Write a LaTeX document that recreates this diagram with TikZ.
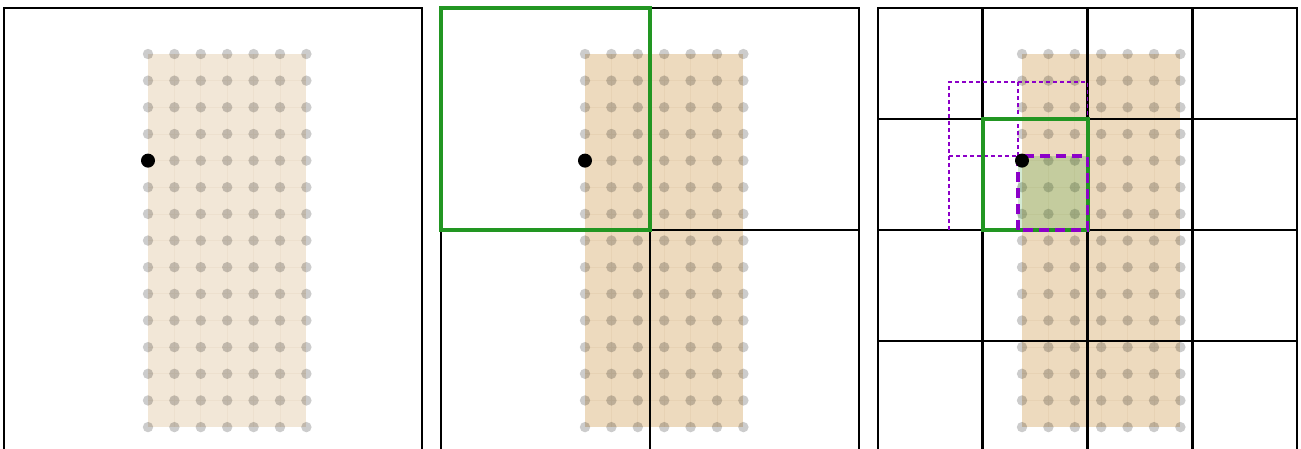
\documentclass[tikz,border=0pt]{standalone}
\definecolor{tanA}{RGB}{242,231,215}
\definecolor{tanB}{RGB}{237,218,190}
\definecolor{tanlineA}{RGB}{237,224,206}
\definecolor{tanlineB}{RGB}{231,210,180}
\definecolor{fgreen}{RGB}{34,150,34}
\definecolor{purp}{RGB}{140,0,200}
\tikzset{
  frame/.style={draw=black,line width=2pt},
  cellline/.style={draw=black,line width=2.6pt},
  greenbox/.style={draw=fgreen,line width=4pt},
  dotg/.style={fill=black,opacity=0.2},
  thinpurp/.style={draw=purp,line width=1.3pt,dash pattern=on 4pt off 3pt},
  thickpurp/.style={draw=purp,line width=3.2pt,dash pattern=on 10pt off 6pt},
  query/.style={circle,fill=black,inner sep=0pt,minimum size=14pt},
}
\newcommand{\dotgrid}[3]{% left offset, fill colour, line colour
  \fill[#2] (#1+144,54) rectangle (#1+302.4,427.1);
  \foreach \i in {1,...,5} {\draw[#3,line width=0.8pt] (#1+144+26.4*\i,54) -- (#1+144+26.4*\i,427.1);}
  \foreach \j in {1,...,13} {\draw[#3,line width=0.8pt] (#1+144,54+26.65*\j) -- (#1+302.4,54+26.65*\j);}
  \foreach \i in {0,...,6} {\foreach \j in {0,...,14} {\fill[dotg] (#1+144+26.4*\i,54+26.65*\j) circle (5.2pt);}}
}
\begin{document}
\begin{tikzpicture}[x=1pt,y=-1pt]
\useasboundingbox (0,0) rectangle (1301,448);
% panel 1
\dotgrid{4}{tanA}{tanlineA}
\draw[frame] (4,8) rectangle (422,452);
\node[query] (q1) at (148,160.6) {};
% panel 2
\dotgrid{441}{tanB}{tanlineB}
\draw[frame] (441,8) rectangle (859,452);
\coordinate (m2l) at (441,230);
\coordinate (m2r) at (859,230);
\coordinate (m2t) at (650,230);
\coordinate (m2b) at (650,452);
\draw[cellline] (m2l) -- (m2r);
\draw[cellline] (m2t) -- (m2b);
\draw[greenbox] (441,8) rectangle (650,230);
\node[query] (q2) at (585,160.6) {};
% panel 3
\dotgrid{878}{tanB}{tanlineB}
\fill[fgreen,opacity=0.2] (1018,156) rectangle (1088,230);
\draw[frame] (878,8) rectangle (1297,452);
\foreach \k in {1,2,3} {
  \draw[cellline] (878+104.75*\k,8) -- (878+104.75*\k,452);
  \draw[cellline] (878,8+111*\k) -- (1297,8+111*\k);
}
\draw[thinpurp] (949,230) -- (949,82) -- (1087.5,82) -- (1087.5,156);
\draw[thinpurp] (1018,82) -- (1018,156);
\draw[thinpurp] (949,156) -- (1018,156);
\draw[greenbox] (982.75,119) rectangle (1087.5,230);
\draw[thickpurp] (1018,230) -- (1018,156) -- (1087.5,156) -- (1087.5,230) -- cycle;
\node[query] (q3) at (1022,160.6) {};
\end{tikzpicture}
\end{document}
